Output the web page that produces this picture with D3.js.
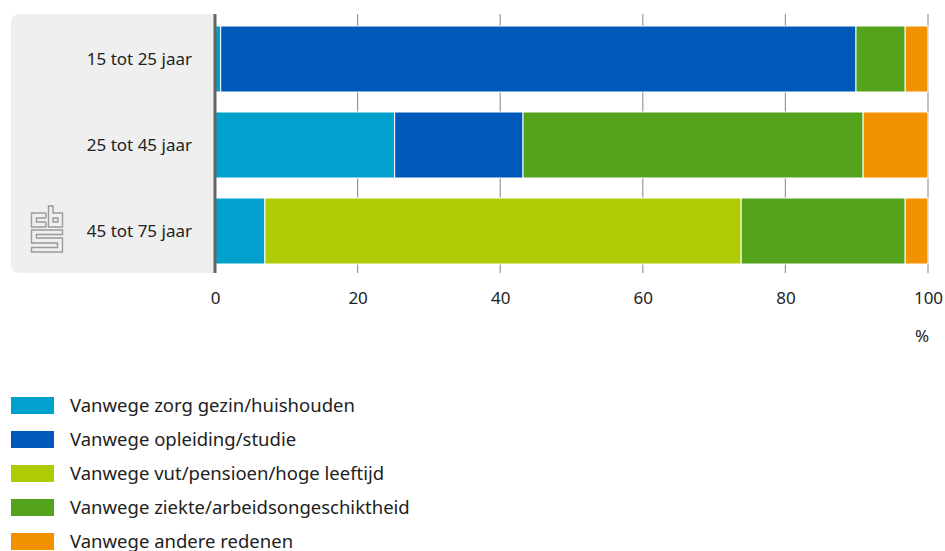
<!DOCTYPE html>
<html>
<head>
<meta charset="utf-8">
<script src="https://cdn.jsdelivr.net/npm/d3@7"></script>
<style>
  html, body { margin: 0; padding: 0; background: #fff; }
  svg { display: block; font-family: "Noto Sans", "Open Sans", sans-serif; }
</style>
</head>
<body>
<svg id="chart" width="945" height="551"></svg>
<script>
// Age groups (rows) and reasons (stacked segments), in percent
const categories = ["15 tot 25 jaar", "25 tot 45 jaar", "45 tot 75 jaar"];
const seriesNames = [
  "Vanwege zorg gezin/huishouden",
  "Vanwege opleiding/studie",
  "Vanwege vut/pensioen/hoge leeftijd",
  "Vanwege ziekte/arbeidsongeschiktheid",
  "Vanwege andere redenen"
];
const zorg      = [0.8, 25.2, 7.0];
const opleiding = [89.1, 18.0, 0.0];
const pensioen  = [0.0, 0.0, 66.8];
const ziekte    = [6.9, 47.7, 23.0];
const anders    = [3.2, 9.1, 3.2];
const xTicks = [0, 20, 40, 60, 80, 100];
const unitLabel = "%";
const colors = ["#00a1cd", "#0058b8", "#afcb05", "#53a31d", "#f39200"];

const seriesValues = [zorg, opleiding, pensioen, ziekte, anders];
const rows = categories.map((c, i) => {
  const r = { cat: c };
  seriesNames.forEach((s, j) => { r[s] = seriesValues[j][i]; });
  return r;
});

const svg = d3.select("#chart");
const plot = { left: 215, right: 928, top: 14, bottom: 273 };
const textColor = "#222";

const x = d3.scaleLinear().domain([0, 100]).range([plot.left, plot.right]);
const y = d3.scaleBand().domain(categories)
  .range([26, 264]).paddingInner(20 / 86).paddingOuter(0);

// Grey label panel behind category names
svg.append("path")
  .attr("fill", "#efefef")
  .attr("d", () => {
    const x0 = 11, x1 = plot.left, y0 = plot.top, y1 = plot.bottom, r = 9;
    return `M${x1},${y0} L${x0 + r},${y0} Q${x0},${y0} ${x0},${y0 + r} L${x0},${y1 - r} Q${x0},${y1} ${x0 + r},${y1} L${x1},${y1} Z`;
  });

// Vertical gridlines
svg.append("g")
  .selectAll("line")
  .data(xTicks.filter(d => d > 0))
  .join("line")
  .attr("x1", d => x(d)).attr("x2", d => x(d))
  .attr("y1", plot.top).attr("y2", plot.bottom)
  .attr("stroke", "#999").attr("stroke-width", 1.2);

// Stacked bars
const stack = d3.stack().keys(seriesNames)(rows);
svg.append("g")
  .selectAll("g")
  .data(stack)
  .join("g")
  .attr("fill", (d, i) => colors[i])
  .selectAll("rect")
  .data(d => d.filter(s => s[1] - s[0] > 0))
  .join("rect")
  .attr("x", d => x(d[0]))
  .attr("width", d => x(d[1]) - x(d[0]))
  .attr("y", d => y(d.data.cat))
  .attr("height", y.bandwidth())
  .attr("stroke", "#fff")
  .attr("stroke-width", 1);

// Zero axis line
svg.append("line")
  .attr("x1", plot.left).attr("x2", plot.left)
  .attr("y1", plot.top).attr("y2", plot.bottom)
  .attr("stroke", "#666").attr("stroke-width", 3);

// Category labels
svg.append("g")
  .selectAll("text")
  .data(categories)
  .join("text")
  .attr("x", 192)
  .attr("y", d => y(d) + y.bandwidth() / 2)
  .attr("dy", "0.35em")
  .attr("text-anchor", "end")
  .attr("font-size", 17)
  .attr("fill", textColor)
  .text(d => d);

// X axis tick labels
const xAxis = d3.axisBottom(x).tickValues(xTicks).tickSize(0).tickPadding(0);
const gx = svg.append("g").attr("transform", `translate(0,${292})`).call(xAxis);
gx.select(".domain").remove();
gx.selectAll("text")
  .attr("font-size", 17)
  .attr("font-family", "Noto Sans, Open Sans, sans-serif")
  .attr("fill", textColor);

svg.append("text")
  .attr("x", plot.right - 6)
  .attr("y", 342)
  .attr("text-anchor", "middle")
  .attr("font-size", 17)
  .attr("fill", textColor)
  .text(unitLabel);

// Legend
const legend = svg.append("g");
const legendRow = legend.selectAll("g")
  .data(seriesNames)
  .join("g")
  .attr("transform", (d, i) => `translate(11,${397 + i * 34})`);
legendRow.append("rect")
  .attr("width", 43).attr("height", 17)
  .attr("fill", (d, i) => colors[i]);
legendRow.append("text")
  .attr("x", 59).attr("y", 9)
  .attr("dy", "0.35em")
  .attr("font-size", 18.5)
  .attr("fill", textColor)
  .text(d => d);

// Small logo mark in the panel
const logo = svg.append("g")
  .attr("fill", "none")
  .attr("stroke", "#9a9a9a")
  .attr("stroke-width", 1.4);
// c
logo.append("path").attr("d", "M46,213 L31.5,213 L31.5,227 L46,227 M46,218 L36.5,218 L36.5,222 L46,222 M46,213 L46,218 M46,222 L46,227");
// b
logo.append("path").attr("d", "M48.5,206 L53,206 L53,213 L62.5,213 L62.5,227 L48.5,227 Z M53,218 L58,218 L58,222 L53,222 Z");
// s
logo.append("path").attr("d", "M31.5,230 L62.5,230 L62.5,234.5 L36.5,234.5 L36.5,238 L62.5,238 L62.5,252 L31.5,252 L31.5,247.5 L57.5,247.5 L57.5,243 L31.5,243 Z");
</script>
</body>
</html>
